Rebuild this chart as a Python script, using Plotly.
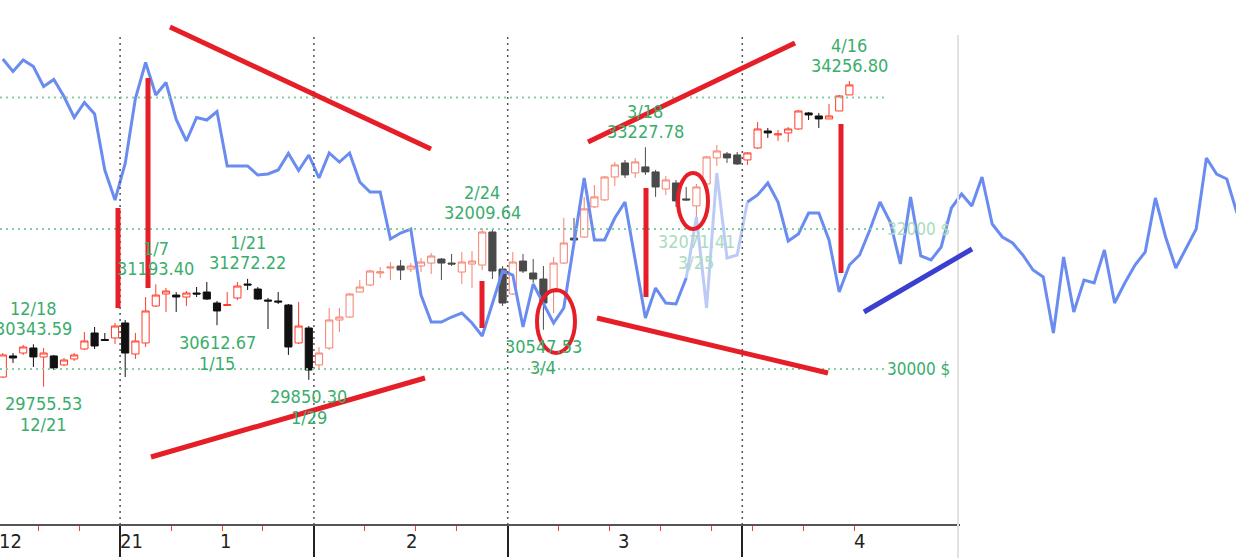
import numpy as np
import pandas as pd
import plotly.graph_objects as go

# ---------------- data ----------------
dates = (
    ['2020-12-15', '2020-12-16', '2020-12-17', '2020-12-18', '2020-12-21', '2020-12-22',
     '2020-12-23', '2020-12-24', '2020-12-28', '2020-12-29', '2020-12-30', '2020-12-31'] +
    ['2021-01-04', '2021-01-05', '2021-01-06', '2021-01-07', '2021-01-08', '2021-01-11',
     '2021-01-12', '2021-01-13', '2021-01-14', '2021-01-15', '2021-01-19', '2021-01-20',
     '2021-01-21', '2021-01-22', '2021-01-25', '2021-01-26', '2021-01-27', '2021-01-28',
     '2021-01-29'] +
    ['2021-02-01', '2021-02-02', '2021-02-03', '2021-02-04', '2021-02-05', '2021-02-08',
     '2021-02-09', '2021-02-10', '2021-02-11', '2021-02-12', '2021-02-16', '2021-02-17',
     '2021-02-18', '2021-02-19', '2021-02-22', '2021-02-23', '2021-02-24', '2021-02-25',
     '2021-02-26'] +
    ['2021-03-01', '2021-03-02', '2021-03-03', '2021-03-04', '2021-03-05', '2021-03-08',
     '2021-03-09', '2021-03-10', '2021-03-11', '2021-03-12', '2021-03-15', '2021-03-16',
     '2021-03-17', '2021-03-18', '2021-03-19', '2021-03-22', '2021-03-23', '2021-03-24',
     '2021-03-25', '2021-03-26', '2021-03-29', '2021-03-30', '2021-03-31'] +
    ['2021-04-01', '2021-04-05', '2021-04-06', '2021-04-07', '2021-04-08', '2021-04-09',
     '2021-04-12', '2021-04-13', '2021-04-14', '2021-04-15', '2021-04-16']
)

open_ = [29889, 30181, 30222, 30292, 30167, 30181, 30056, 30139, 30278, 30502, 30411, 30432,
         30643, 30208, 30362, 30884, 31055, 31040, 31012, 31069, 31083, 30926, 30891, 30998,
         31198, 31126, 30969, 30955, 30898, 30362, 30572,
         30056, 30292, 30685, 30727, 31083, 31184, 31357, 31429, 31458, 31414, 31458, 31501,
         31559, 31501, 31371, 31487, 31472, 31955, 31414,
         31055, 31530, 31357, 31270, 31083, 31501, 31866, 31881, 32327, 32431, 32776, 32988,
         32837, 32928, 32852, 32595, 32685, 32446, 32342, 32670, 33065, 33126, 33110,
         33034, 33217, 33478, 33417, 33448, 33509, 33757, 33710, 33664, 33788, 34039]

high = [30222, 30222, 30334, 30343.59, 30292, 30195, 30153, 30222, 30516, 30586, 30502, 30643,
        30685, 30502, 31012, 31193.40, 31141, 31083, 31098, 31155, 31227, 30955, 31083, 31227,
        31272.22, 31155, 30998, 31083, 30912, 30941, 30600,
        30306, 30855, 30855, 31069, 31256, 31400, 31443, 31516, 31545, 31501, 31574, 31646,
        31574, 31632, 31661, 31675, 32009.64, 32000, 31458,
        31661, 31632, 31559, 31458, 31588, 32163, 32163, 32476, 32655, 32792, 33004, 33034,
        33065, 33227.78, 32882, 32792, 32731, 32625, 32670, 33095, 33263, 33156, 33156,
        33156, 33617, 33525, 33494, 33540, 33804, 33773, 33757, 33897, 34039, 34256.80]

low = [29876, 30084, 30195, 30028, 29755.53, 29986, 30042, 30111, 30264, 30278, 30390, 30348,
       29889, 30139, 30306, 30870, 30799, 30799, 30884, 31012, 30969, 30612.67, 30884, 30969,
       31112, 30969, 30558, 30912, 30195, 30348, 29850.30,
       30014, 30264, 30516, 30713, 31083, 31169, 31285, 31256, 31256, 31371, 31371, 31343,
       31256, 31458, 31198, 31141, 31400, 31270, 30884,
       31040, 31357, 31213, 30547.53, 30784, 31487, 31822, 31866, 32312, 32416, 32640, 32761,
       32761, 32807, 32476, 32505, 32327, 32416, 32071.41, 32655, 32943, 32988, 32958,
       32958, 33202, 33371, 33325, 33309, 33494, 33648, 33525, 33664, 33788, 34039]

close = [30195, 30153, 30306, 30167, 30222, 30014, 30125, 30195, 30390, 30320, 30397, 30600,
         30222, 30390, 30813, 31040, 31098, 31012, 31069, 31055, 30983, 30813, 30905, 31169,
         31184, 30983, 30955, 30941, 30306, 30600, 29986,
         30222, 30685, 30727, 31055, 31155, 31386, 31372, 31443, 31400, 31458, 31516, 31603,
         31501, 31487, 31516, 31530, 31955, 31386, 30926,
         31516, 31386, 31270, 30926, 31501, 31793, 31837, 32297, 32476, 32776, 32958, 32807,
         33004, 32852, 32625, 32731, 32416, 32431, 32625, 33080, 33171, 33065, 32973,
         33141, 33509, 33448, 33432, 33509, 33788, 33726, 33664, 33710, 34023, 34196]

# comparison line (own hidden scale), one value per trading day from 12/15 onward
compare_line = [93.2, 90.7, 93.0, 91.7, 87.7, 89.1, 85.7, 81.5, 84.5, 82.2, 71.0,
                65.0, 72.3, 85.3, 92.5, 86.0, 88.5, 81.1, 76.8, 81.5, 81.0, 82.7,
                71.8, 71.8, 71.8, 70.0, 70.2, 71.0, 74.3, 70.9, 74.0, 69.4,
                74.4, 72.6, 74.4, 68.6, 66.6, 66.6, 57.2, 58.4, 59.2, 46.0,
                40.6, 40.6, 41.6, 42.4, 40.4, 37.8, 44.4, 50.8, 50.0, 39.6,
                48.2, 44.4, 40.4, 43.4, 56.0, 69.4, 57.0, 57.0, 61.4, 64.6,
                53.0, 41.4, 47.4, 44.4, 44.2, 49.4, 61.6, 43.4, 70.4, 53.4,
                54.0, 64.6, 66.0, 68.4, 64.6, 56.8, 58.2, 62.4, 62.4, 57.0,
                46.6, 52.0, 54.0, 59.0, 64.6, 60.6, 52.2, 65.6, 53.8, 53.0,
                55.6, 63.4, 66.2, 63.8, 69.6, 60.2, 57.6, 56.4, 54.0, 51.0,
                49.6, 38.4, 53.6, 42.6, 49.0, 48.4, 55.0, 44.4, 48.4, 52.0,
                54.6, 65.4, 57.6, 51.4, 55.2, 59.2, 73.4, 70.2, 69.2, 62.4]

label_dates = ['12/18', '12/21', '1/7', '1/15', '1/21', '1/29', '2/24', '3/4', '3/18', '3/25', '4/16']
label_values = [30343.59, 29755.53, 31193.40, 30612.67, 31272.22, 29850.30, 32009.64,
                30547.53, 33227.78, 32071.41, 34256.80]
label_kind = ['H', 'L', 'H', 'L', 'H', 'L', 'H', 'L', 'H', 'L', 'H']

month_labels = ['12', '21', '1', '2', '3', '4']
price_levels = [30000, 32000, 34000]
price_level_labels = ['30000 $', '32000 $', None]

# ---------------- helpers / styles ----------------
W, H = 1236, 558
PLOT_H = 525
Y_LO, Y_HI = 4.445900, 4.550971
X_LO, X_HI = -0.2745, 120.902

def pp(x, y):
    """pixel -> paper"""
    return x / W, (PLOT_H - y) / PLOT_H

def price_paper(p):
    return (np.log10(p) - Y_LO) / (Y_HI - Y_LO)

NARROW = "DejaVu Sans Condensed, Liberation Sans Narrow, sans-serif"
GREEN = '#3aad6c'
GREEN_FADED = '#a9dcbd'
RED = '#e61e28'
BLUE = '#6a8cf0'
BLUE_FADED = '#bccbf6'

dt = pd.to_datetime(dates)
n = len(dates)
xk = np.arange(n)
short = [f"{d.month}/{d.day}" for d in dt]

o = np.array(open_, float); h = np.array(high, float)
l = np.array(low, float); c = np.array(close, float)
inc = c >= o
faded = (xk >= 31) & (xk <= 72)

fig = go.Figure()

groups = [
    (inc & ~faded, '#ff3c28', 'white'),
    (inc & faded, '#f5806f', 'white'),
    (~inc & ~faded, '#111111', '#111111'),
    (~inc & faded, '#4a4a4a', '#4a4a4a'),
]
for mask, lc, fc in groups:
    fig.add_trace(go.Candlestick(
        x=xk[mask], open=o[mask], high=h[mask], low=l[mask], close=c[mask],
        increasing=dict(line=dict(color=lc, width=1), fillcolor=fc),
        decreasing=dict(line=dict(color=lc, width=1), fillcolor=fc),
        whiskerwidth=0, showlegend=False, hoverinfo='skip'))

# comparison line (faded segment in the middle)
bx = np.arange(len(compare_line))
bv = np.array(compare_line)
segs = [(0, 67, BLUE), (67, 73, BLUE_FADED), (73, len(bv) - 1, BLUE)]
for a, b, col in segs:
    fig.add_trace(go.Scatter(x=bx[a:b + 1], y=bv[a:b + 1], yaxis='y2', mode='lines',
                             line=dict(color=col, width=3), showlegend=False, hoverinfo='skip'))

# boundaries
ext = list(dt) + [dt[-1] + pd.Timedelta(days=3)]
weeks = [d.isocalendar()[1] for d in ext]
months = [d.month for d in ext]
week_b = [k - 0.5 for k in range(1, len(ext)) if weeks[k] != weeks[k - 1]]
month_b = [k - 0.5 for k in range(1, len(ext) - 1) if months[k] != months[k - 1]]
minor_b = [b for b in week_b if b not in month_b]

shapes = []
for b in month_b:
    shapes.append(dict(type='line', xref='x', yref='paper', x0=b, x1=b,
                       y0=0, y1=pp(0, 33)[1],
                       line=dict(color='#555555', width=1.5, dash='2px,4px')))
for p in price_levels:
    yp = price_paper(p)
    shapes.append(dict(type='line', xref='paper', yref='paper', x0=0, x1=885 / W,
                       y0=yp, y1=yp, line=dict(color='#86cfa3', width=2, dash='2px,4px')))
shapes.append(dict(type='line', xref='paper', yref='paper', x0=0, x1=960 / W, y0=0, y1=0,
                   line=dict(color='#555555', width=2)))
shapes.append(dict(type='line', xref='paper', yref='paper', x0=958 / W, x1=958 / W,
                   y0=pp(0, 35)[1], y1=pp(0, 558)[1], line=dict(color='#e2e2e2', width=2)))

def seg(x0, y0, x1, y1, col=RED, w=5):
    a = pp(x0, y0); b = pp(x1, y1)
    shapes.append(dict(type='line', xref='paper', yref='paper', x0=a[0], y0=a[1],
                       x1=b[0], y1=b[1], line=dict(color=col, width=w)))

def ell(x0, y0, x1, y1):
    a = pp(x0, y1); b = pp(x1, y0)
    shapes.append(dict(type='circle', xref='paper', yref='paper', x0=a[0], y0=a[1],
                       x1=b[0], y1=b[1], line=dict(color=RED, width=4)))

seg(170, 27, 431, 149)
seg(118, 208, 118, 308)
seg(148, 78, 148, 288)
seg(151, 457, 425, 378)
seg(482, 281, 482, 328)
ell(537, 290, 575, 353)
seg(588, 142, 795, 43)
seg(646, 188, 646, 297)
ell(678, 173, 708, 229)
seg(597, 318, 828, 373)
seg(841, 124, 841, 273)
seg(864, 312, 972, 249, col='#3b3fd0')

annotations = []
for d, v, kind in zip(label_dates, label_values, label_kind):
    k = short.index(d)
    col = GREEN_FADED if d == '3/25' else GREEN
    if kind == 'H':
        rows = [(f"{v:.2f}", 16), (d, 36)]
    else:
        rows = [(f"{v:.2f}", -17), (d, -38)]
    for txt, ys in rows:
        annotations.append(dict(x=k, y=np.log10(v), xref='x', yref='y', text=txt,
                                showarrow=False, yshift=ys, xanchor='center', yanchor='middle',
                                font=dict(family=NARROW, size=18, color=col)))

for p, t in zip(price_levels, price_level_labels):
    if t is None:
        continue
    col = GREEN_FADED if p == 32000 else GREEN
    annotations.append(dict(x=918 / W, y=price_paper(p), xref='paper', yref='paper', text=t,
                            showarrow=False, xanchor='center', yanchor='middle',
                            font=dict(family=NARROW, size=17, color=col)))

month_px = [10, 131, 225, 411, 623, 859]
for t, xpx in zip(month_labels, month_px):
    annotations.append(dict(x=xpx / W, y=pp(0, 541)[1], xref='paper', yref='paper', text=t,
                            showarrow=False, xanchor='center', yanchor='middle',
                            font=dict(family=NARROW, size=20, color='#222222')))

fig.update_layout(
    width=W, height=H, autosize=False,
    margin=dict(l=0, r=0, t=0, b=H - PLOT_H, pad=0),
    paper_bgcolor='white', plot_bgcolor='white',
    showlegend=False,
    boxgap=0.3, boxgroupgap=0,
    xaxis=dict(range=[X_LO, X_HI], showgrid=False, zeroline=False, showline=False,
               rangeslider=dict(visible=False), fixedrange=True,
               tickmode='array', tickvals=month_b, ticktext=['' for _ in month_b],
               ticks='outside', ticklen=31, tickwidth=1.5, tickcolor='#222222',
               showticklabels=False,
               minor=dict(tickmode='array', tickvals=minor_b, ticks='outside', ticklen=5,
                          tickwidth=1, tickcolor='#ff3c28', showgrid=False)),
    yaxis=dict(type='log', range=[Y_LO, Y_HI], visible=False, fixedrange=True),
    yaxis2=dict(range=[0, 105], overlaying='y', visible=False, fixedrange=True),
    shapes=shapes, annotations=annotations,
)

fig.write_html("out.html", config={'displayModeBar': False},
               post_script="document.body.style.margin='0px';document.body.style.padding='0px';")
